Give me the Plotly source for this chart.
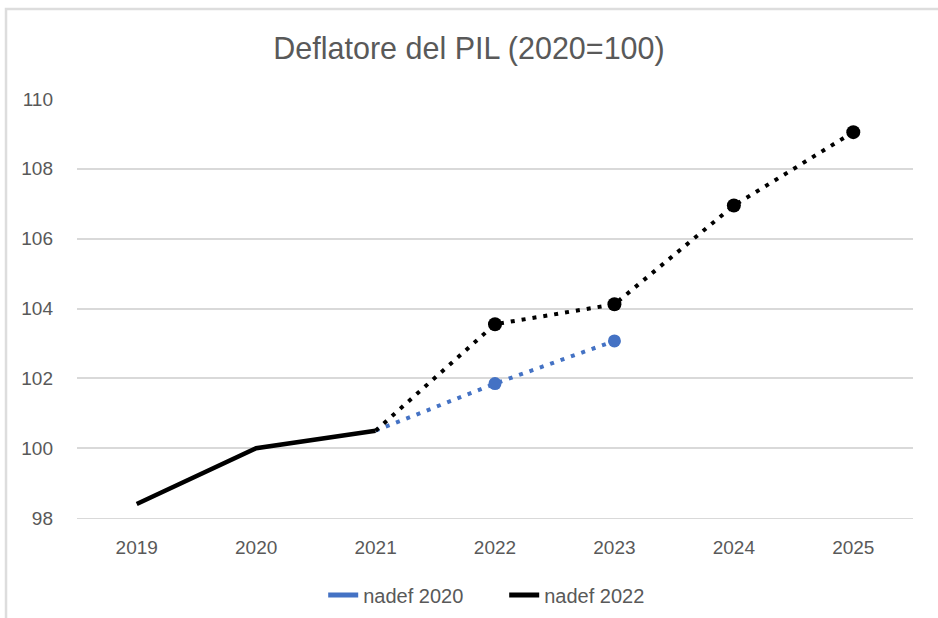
import plotly.graph_objects as go

# dati
anni = ['2019', '2020', '2021', '2022', '2023', '2024', '2025']
nadef_2022 = [98.4, 100.0, 100.5, 103.55, 104.12, 106.95, 109.05]
nadef_2020 = [None, None, 100.5, 101.85, 103.07, None, None]
y_ticks = [98, 100, 102, 104, 106, 108, 110]

blu = '#4472C4'
nero = '#000000'
grigio = '#595959'
font_nome = 'Liberation Sans'

# consuntivo fino al 2021, previsioni dal 2021 in poi
fine_storico = 3

fig = go.Figure()

# nadef 2020 - previsione tratteggiata
fig.add_trace(go.Scatter(
    x=anni[2:], y=nadef_2020[2:], mode='lines',
    line=dict(color=blu, width=4, dash='4px,7px'),
    showlegend=False, hoverinfo='skip'))
fig.add_trace(go.Scatter(
    x=anni[fine_storico:], y=nadef_2020[fine_storico:], mode='markers',
    marker=dict(color=blu, size=13),
    showlegend=False))

# nadef 2022 - storico pieno + previsione tratteggiata
fig.add_trace(go.Scatter(
    x=anni[2:], y=nadef_2022[2:], mode='lines',
    line=dict(color=nero, width=4, dash='4px,7px'),
    showlegend=False, hoverinfo='skip'))
fig.add_trace(go.Scatter(
    x=anni[:fine_storico], y=nadef_2022[:fine_storico], mode='lines',
    line=dict(color=nero, width=4.5),
    showlegend=False))
fig.add_trace(go.Scatter(
    x=anni[fine_storico:], y=nadef_2022[fine_storico:], mode='markers',
    marker=dict(color=nero, size=14),
    showlegend=False))

# voci di legenda
fig.add_trace(go.Scatter(x=[None], y=[None], mode='lines', name='nadef 2020',
                         line=dict(color=blu, width=5)))
fig.add_trace(go.Scatter(x=[None], y=[None], mode='lines', name='nadef 2022',
                         line=dict(color=nero, width=5)))

# cornice dell'area grafico (solo bordo sinistro e superiore visibili)
fig.add_shape(type='rect', xref='paper', yref='paper',
              x0=-0.0849, x1=1.2, y0=-0.5, y1=1.2148,
              line=dict(color='#DDDDDD', width=2.5), layer='below')

fig.update_layout(
    width=938, height=618,
    paper_bgcolor='white', plot_bgcolor='white',
    margin=dict(l=77, r=25, t=99, b=100, autoexpand=False),
    title=dict(text='Deflatore del PIL (2020=100)', x=0.5, xanchor='center',
               y=1 - 48 / 618, yanchor='middle',
               font=dict(family=font_nome, size=30.5, color=grigio)),
    font=dict(family=font_nome, size=19, color=grigio),
    xaxis=dict(type='category', categoryorder='array', categoryarray=anni,
               range=[-0.5, 6.5], showgrid=False, showline=True,
               linecolor='#D9D9D9', linewidth=1, ticks='', ticklabelstandoff=12,
               tickfont=dict(size=19, color=grigio)),
    yaxis=dict(range=[98, 110], tickvals=y_ticks, showgrid=True,
               gridcolor='#D9D9D9', gridwidth=1.5, zeroline=False,
               showline=False, ticks='', ticklabelstandoff=23,
               tickfont=dict(size=19, color=grigio)),
    legend=dict(orientation='h', x=0.511, xanchor='center', y=-0.184,
                yanchor='middle', font=dict(size=20, color=grigio),
                itemwidth=30, entrywidth=136, entrywidthmode='pixels',
                bgcolor='rgba(0,0,0,0)'),
    showlegend=True,
)

fig.write_html("out.html", config={'displayModeBar': False},
               post_script="document.body.style.margin='0';")
